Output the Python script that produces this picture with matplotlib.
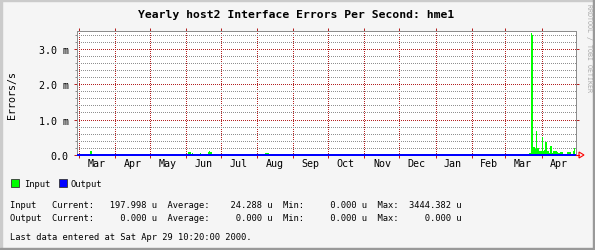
import matplotlib
matplotlib.use("Agg")
import matplotlib.pyplot as plt
import matplotlib.dates as mdates
from matplotlib.ticker import FixedLocator, MultipleLocator, NullFormatter
from matplotlib.patches import Rectangle, Polygon
from matplotlib.lines import Line2D
import pandas as pd

# --- data (errors/s, in milli units) ---
x_start = "1999-02-27 12:00"
x_end = "2000-04-30 12:00"

# scattered small input errors during 1999
spot_dates = ["1999-03-11", "1999-03-16",
              "1999-06-03", "1999-06-04", "1999-06-05", "1999-06-06", "1999-06-07",
              "1999-06-08", "1999-06-09", "1999-06-10", "1999-06-11", "1999-06-12",
              "1999-06-13", "1999-06-14", "1999-06-20", "1999-06-21", "1999-06-22",
              "1999-06-23", "1999-07-03", "1999-07-14", "1999-08-08", "1999-08-09",
              "1999-08-10", "1999-12-06", "2000-02-17"]
spot_values = [0.11, 0.03,
               0.08, 0.09, 0.03, 0.05, 0.02,
               0.03, 0.03, 0.03, 0.03, 0.03,
               0.06, 0.03, 0.09, 0.10, 0.09,
               0.04, 0.03, 0.03, 0.05, 0.05,
               0.05, 0.02, 0.02]

# daily input errors from 2000-03-21 to 2000-04-29
spring_dates = pd.date_range("2000-03-21", "2000-04-29", freq="D")
spring_values = [0.07, 0.07, 3.444, 3.40, 0.22, 0.18, 0.67, 0.20, 0.20, 0.12,
                 0.12, 0.50, 0.10, 0.15, 0.38, 0.38, 0.10, 0.06, 0.25, 0.25,
                 0.06, 0.10, 0.10, 0.10, 0.09, 0.06, 0.06, 0.08, 0.08, 0.04,
                 0.03, 0.03, 0.04, 0.08, 0.08, 0.08, 0.03, 0.03, 0.10, 0.198]

output_dates = [x_start, x_end]
output_values = [0.0, 0.0]

y_ticks = [0, 1, 2, 3]
y_tick_labels = ["0.0", "1.0 m", "2.0 m", "3.0 m"]

stat_names = ["Current:", "Average:", "Min:", "Max:"]
input_stats = [197.998, 24.288, 0.000, 3444.382]
output_stats = [0.000, 0.000, 0.000, 0.000]

W, H = 595, 251
MONO = "DejaVu Sans Mono"
green = "#00ff00"
blue = "#0000ff"
mgrid = "#b42020"
grid = "#909090"
frame = "#8c8c8c"
small = 6.3  # legend / stats font
PX = 0.72    # one pixel in points
DOTS = (0.5, (1, 1))  # 1px on / 1px off


def fx(px):
    return px / W


def fy(py):
    return 1 - py / H


fig = plt.figure(figsize=(W / 100, H / 100), dpi=100, facecolor="#f5f5f5")

# outer shaded border
fig.patches.append(Rectangle((0, fy(2)), 1, 2 / H, transform=fig.transFigure, color="#cbcbcb", zorder=0))
fig.patches.append(Rectangle((0, 0), 2 / W, 1, transform=fig.transFigure, color="#cbcbcb", zorder=0))
fig.patches.append(Rectangle((0, 0), 1, 2 / H, transform=fig.transFigure, color="#999999", zorder=1))
fig.patches.append(Rectangle((fx(W - 2), 0), 2 / W, 1, transform=fig.transFigure, color="#999999", zorder=1))

ax = fig.add_axes([fx(77), fy(156), fx(576) - fx(77), (156 - 32) / H])
ax.set_facecolor("white")
ax.set_axisbelow(True)

# --- data marks ---
ax.bar(pd.to_datetime(spot_dates), spot_values, width=1.0, align="edge",
       color=green, linewidth=0, antialiased=False, zorder=2)
ax.bar(spring_dates, spring_values, width=1.0, align="edge",
       color=green, linewidth=0, antialiased=False, zorder=2)
ax.plot(pd.to_datetime(output_dates), output_values, color=blue, linewidth=2 * PX,
        zorder=5, clip_on=False, solid_capstyle="butt")

ax.set_xlim(pd.Timestamp(x_start), pd.Timestamp(x_end))
ax.set_ylim(0, 3.5)

# --- axes / grid ---
ax.xaxis.set_major_locator(mdates.MonthLocator())
ax.xaxis.set_major_formatter(NullFormatter())
ax.xaxis.set_minor_locator(mdates.MonthLocator(bymonthday=16))
ax.xaxis.set_minor_formatter(mdates.DateFormatter("%b"))
ax.yaxis.set_major_locator(FixedLocator(y_ticks))
ax.set_yticklabels(y_tick_labels)
ax.yaxis.set_minor_locator(MultipleLocator(0.2))

ax.tick_params(axis="x", which="major", top=True, bottom=True, direction="out",
               length=2.2, width=PX, color=mgrid)
ax.tick_params(axis="x", which="minor", length=0, pad=2.5, labelsize=7.2)
ax.tick_params(axis="y", which="major", left=True, right=True, direction="out",
               length=2.2, width=PX, color=mgrid, pad=3.8, labelsize=7.2)
ax.tick_params(axis="y", which="minor", left=True, right=False, direction="out",
               length=1.6, width=PX, color=grid)
for lab in ax.get_xticklabels(minor=True) + ax.get_yticklabels():
    lab.set_family(MONO)

ax.grid(which="major", axis="both", color=mgrid, linestyle=DOTS, linewidth=PX)
ax.grid(which="minor", axis="y", color=grid, linestyle=DOTS, linewidth=PX)

for side in ["left", "top", "right"]:
    ax.spines[side].set_color(frame)
    ax.spines[side].set_linewidth(PX)
ax.spines["bottom"].set_visible(False)

# red arrow at the end of the time axis
fig.lines.append(Line2D([fx(576), fx(579)], [fy(156), fy(156)], transform=fig.transFigure,
                        color="red", linewidth=0.8))
fig.patches.append(Polygon([(fx(579), fy(153)), (fx(584), fy(156)), (fx(579), fy(159))],
                           closed=True, fill=False, edgecolor="red", linewidth=0.8,
                           transform=fig.transFigure))

# --- texts ---
fig.text(fx(296.5), fy(17.7), "Yearly host2 Interface Errors Per Second: hme1",
         ha="center", va="baseline", family=MONO, fontweight="bold", fontsize=8.2)
fig.text(fx(12), fy(95), "Errors/s", rotation=90, ha="center", va="center",
         family=MONO, fontsize=7.2)
fig.text(fx(588.5), fy(48), "RRDTOOL / TOBI OETIKER", rotation=270, ha="center",
         va="center", family=MONO, fontsize=4.8, color="#a8a8a8")

# legend boxes
fig.patches.append(Rectangle((fx(11), fy(188)), 8 / W, 8 / H, transform=fig.transFigure,
                             facecolor=green, edgecolor="#333333", linewidth=0.6))
fig.text(fx(24.5), fy(187.3), "Input", ha="left", va="baseline", family=MONO, fontsize=small)
fig.patches.append(Rectangle((fx(59), fy(188)), 8 / W, 8 / H, transform=fig.transFigure,
                             facecolor=blue, edgecolor="#333333", linewidth=0.6))
fig.text(fx(70.5), fy(187.3), "Output", ha="left", va="baseline", family=MONO, fontsize=small)


def stat_line(name, vals):
    s = name.ljust(8)
    for label, v in zip(stat_names, vals):
        s += label + f"{v:10.3f} u  "
    return s.rstrip()


fig.text(fx(10.5), fy(208), stat_line("Input", input_stats), ha="left", va="baseline",
         family=MONO, fontsize=small)
fig.text(fx(10.5), fy(221), stat_line("Output", output_stats), ha="left", va="baseline",
         family=MONO, fontsize=small)
fig.text(fx(10.5), fy(240.5), "Last data entered at Sat Apr 29 10:20:00 2000.",
         ha="left", va="baseline", family=MONO, fontsize=small)

fig.savefig("out.png", dpi=100, facecolor=fig.get_facecolor())
